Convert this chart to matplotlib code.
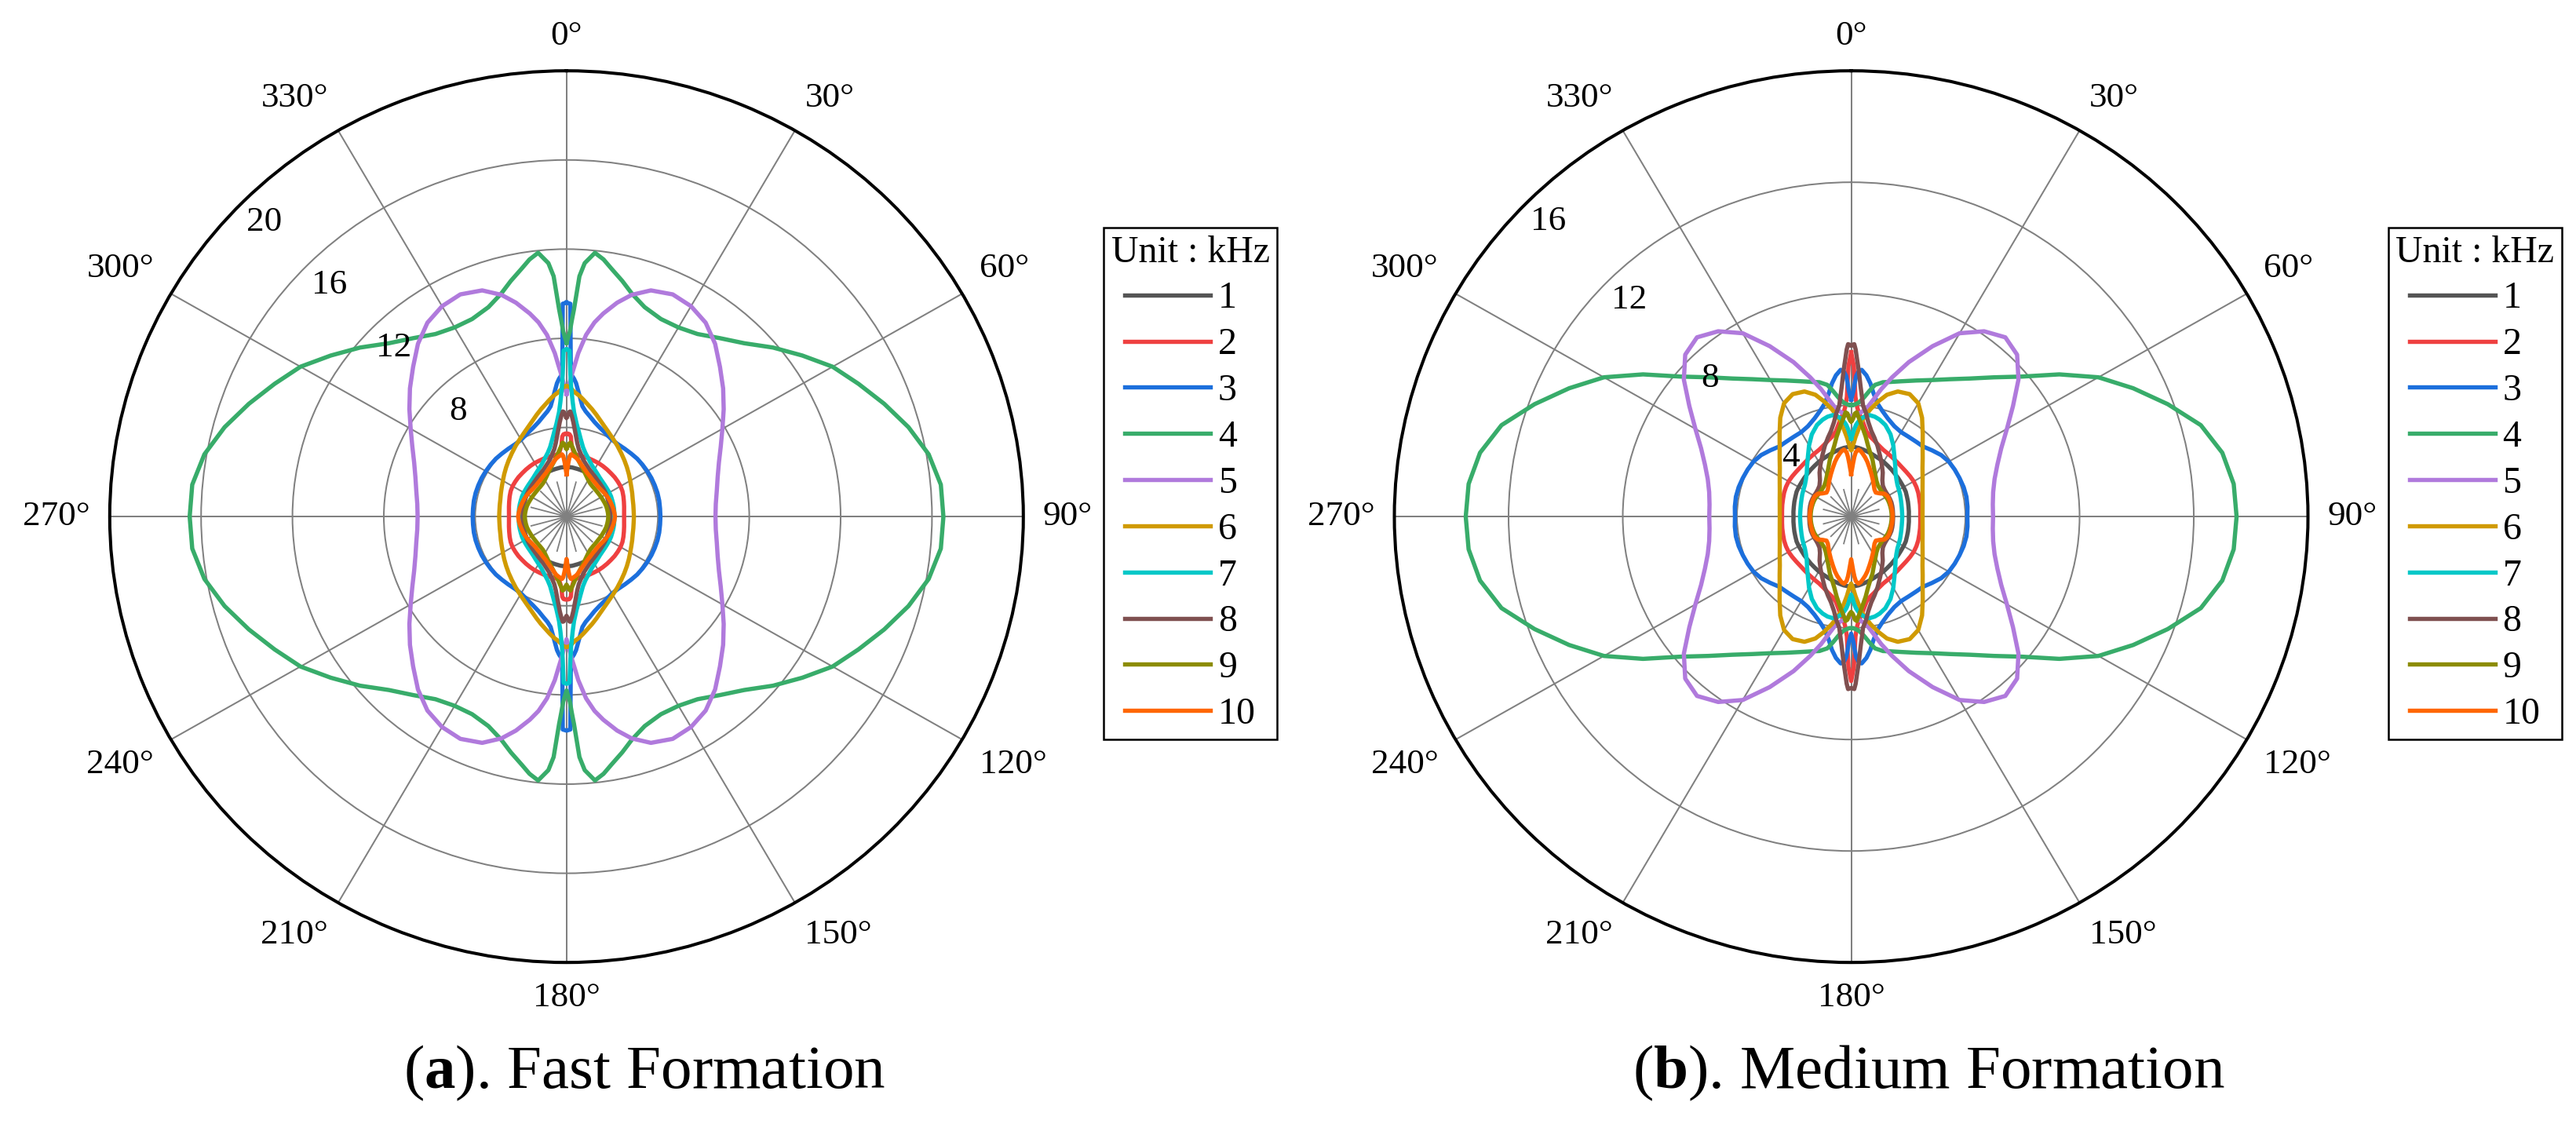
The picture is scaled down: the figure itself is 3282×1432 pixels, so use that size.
import numpy as np
import matplotlib.pyplot as plt

plt.rcParams['font.family'] = ['Liberation Serif', 'DejaVu Serif']
plt.rcParams['mathtext.fontset'] = 'custom'
plt.rcParams['mathtext.rm'] = 'Liberation Serif'
plt.rcParams['mathtext.bf'] = 'Liberation Serif:bold'

# angles of one quadrant (deg, clockwise from top); the patterns are symmetric
# about the 0-180 and 90-270 lines, so the other quadrants are mirrored
ang = [0, 1, 1.5, 2, 3, 4, 6, 8, 10, 13, 16, 20, 25, 30, 35, 40, 45, 50, 55, 60, 65, 70, 75, 80, 85, 90]

freqs = ['1', '2', '3', '4', '5', '6', '7', '8', '9', '10']
colors = ['#555555', '#ef4040', '#1c6fdc', '#38ac6a', '#b07adc',
          '#d09a00', '#00c8c8', '#7f5050', '#8c8c00', '#ff6600']

# (a) fast formation
fast_1 = [2.23, 2.23, 2.23, 2.23, 2.23, 2.22, 2.22, 2.21, 2.2, 2.19, 2.18, 2.17, 2.15, 2.13, 2.11, 2.09, 2.07, 2.04, 2.02, 2.0, 1.98, 1.96, 1.95, 1.94, 1.93, 1.93]
fast_2 = [3.72, 3.72, 3.7, 3.7, 3.6, 3.2, 2.92, 2.83, 2.8, 2.79, 2.79, 2.79, 2.78, 2.78, 2.77, 2.76, 2.75, 2.75, 2.74, 2.73, 2.7, 2.65, 2.6, 2.56, 2.53, 2.52]
fast_3 = [9.6, 9.55, 7.0, 6.35, 6.2, 6.0, 5.45, 5.0, 4.8, 4.6, 4.42, 4.25, 4.1, 3.98, 3.95, 3.97, 4.0, 4.04, 4.06, 4.08, 4.1, 4.11, 4.12, 4.12, 4.11, 4.11]
fast_4 = [7.8, 8.3, 8.8, 9.3, 10.8, 11.4, 11.9, 11.65, 11.3, 10.85, 10.4, 10.0, 9.78, 9.8, 10.0, 10.45, 11.0, 11.8, 12.6, 13.45, 14.1, 14.8, 15.5, 16.1, 16.45, 16.5]
fast_5 = [5.5, 5.9, 6.1, 6.35, 6.8, 7.35, 8.2, 8.8, 9.25, 9.85, 10.35, 10.8, 11.0, 10.9, 10.62, 10.12, 9.5, 8.95, 8.4, 7.88, 7.45, 7.1, 6.85, 6.68, 6.56, 6.52]
fast_6 = [5.85, 5.83, 5.8, 5.75, 5.65, 5.57, 5.45, 5.3, 5.15, 4.95, 4.75, 4.5, 4.25, 4.05, 3.88, 3.72, 3.58, 3.45, 3.33, 3.22, 3.13, 3.06, 3.0, 2.97, 2.95, 2.95]
fast_7 = [7.5, 7.45, 6.4, 5.8, 5.15, 4.7, 4.2, 3.85, 3.55, 3.2, 2.98, 2.78, 2.58, 2.45, 2.35, 2.27, 2.22, 2.19, 2.17, 2.16, 2.15, 2.13, 2.12, 2.11, 2.1, 2.1]
fast_8 = [4.45, 4.6, 4.7, 4.72, 4.5, 4.25, 3.75, 3.35, 3.08, 2.85, 2.65, 2.5, 2.35, 2.25, 2.18, 2.12, 2.08, 2.05, 2.03, 2.01, 1.98, 1.96, 1.94, 1.92, 1.91, 1.9]
fast_9 = [3.05, 3.15, 3.2, 3.28, 3.32, 3.2, 3.0, 2.82, 2.68, 2.5, 2.36, 2.2, 2.03, 1.9, 1.81, 1.77, 1.75, 1.74, 1.74, 1.75, 1.76, 1.78, 1.8, 1.81, 1.82, 1.83]
fast_10 = [1.9, 2.15, 2.3, 2.45, 2.72, 2.8, 2.75, 2.7, 2.64, 2.52, 2.4, 2.28, 2.15, 2.07, 2.0, 1.96, 1.93, 1.93, 1.95, 1.98, 2.01, 2.03, 2.05, 2.08, 2.1, 2.12]

# (b) medium formation
med_1 = [2.5, 2.5, 2.5, 2.5, 2.5, 2.49, 2.48, 2.46, 2.44, 2.41, 2.38, 2.34, 2.3, 2.27, 2.23, 2.2, 2.17, 2.15, 2.13, 2.12, 2.11, 2.08, 2.06, 2.04, 2.03, 2.02]
med_2 = [5.9, 5.4, 4.8, 4.3, 3.95, 3.75, 3.53, 3.3, 3.1, 2.95, 2.86, 2.75, 2.65, 2.6, 2.56, 2.53, 2.51, 2.51, 2.52, 2.53, 2.52, 2.5, 2.47, 2.45, 2.43, 2.42]
med_3 = [4.2, 4.5, 4.8, 5.05, 5.25, 5.28, 5.1, 4.83, 4.5, 4.15, 3.95, 3.75, 3.58, 3.5, 3.5, 3.52, 3.56, 3.7, 3.85, 3.95, 4.0, 4.04, 4.08, 4.1, 4.09, 4.07]
med_4 = [4.0, 4.0, 4.02, 4.03, 4.07, 4.12, 4.3, 4.55, 4.8, 4.95, 5.03, 5.17, 5.39, 5.66, 6.02, 6.47, 7.07, 7.82, 8.9, 10.0, 10.9, 11.8, 12.68, 13.2, 13.45, 13.5]
med_5 = [3.6, 3.6, 3.6, 3.62, 3.65, 3.7, 3.8, 3.93, 4.2, 4.7, 5.2, 5.9, 6.75, 7.6, 8.12, 8.4, 8.22, 7.65, 6.92, 6.3, 5.8, 5.45, 5.2, 5.05, 4.98, 4.97]
med_6 = [2.4, 2.5, 2.58, 2.65, 2.85, 3.02, 3.42, 3.68, 3.92, 4.25, 4.55, 4.78, 4.85, 4.7, 4.33, 3.9, 3.54, 3.27, 3.05, 2.89, 2.76, 2.66, 2.59, 2.54, 2.51, 2.5]
med_7 = [2.8, 2.95, 3.05, 3.15, 3.3, 3.4, 3.55, 3.65, 3.7, 3.68, 3.62, 3.5, 3.26, 2.95, 2.64, 2.4, 2.2, 2.07, 1.98, 1.93, 1.89, 1.85, 1.82, 1.8, 1.79, 1.79]
med_8 = [6.15, 6.19, 6.0, 5.7, 5.2, 4.7, 4.0, 3.75, 3.45, 3.15, 2.95, 2.7, 2.4, 2.15, 1.93, 1.7, 1.57, 1.52, 1.5, 1.5, 1.5, 1.5, 1.49, 1.48, 1.47, 1.47]
med_9 = [3.42, 3.5, 3.6, 3.7, 3.75, 3.6, 3.35, 3.12, 2.92, 2.62, 2.4, 2.18, 1.9, 1.7, 1.55, 1.46, 1.42, 1.4, 1.4, 1.41, 1.42, 1.42, 1.42, 1.42, 1.42, 1.42]
med_10 = [1.53, 1.7, 1.8, 1.92, 2.15, 2.32, 2.42, 2.38, 2.3, 2.18, 2.05, 1.87, 1.68, 1.52, 1.38, 1.27, 1.22, 1.3, 1.43, 1.47, 1.47, 1.46, 1.45, 1.45, 1.45, 1.45]

fast = [fast_1, fast_2, fast_3, fast_4, fast_5, fast_6, fast_7, fast_8, fast_9, fast_10]
med = [med_1, med_2, med_3, med_4, med_5, med_6, med_7, med_8, med_9, med_10]


def mirror(a, r):
    a = np.asarray(a, float)
    r = np.asarray(r, float)
    th = np.concatenate([a, 180 - a[::-1][1:], 180 + a[1:], 360 - a[::-1][1:]])
    rr = np.concatenate([r, r[::-1][1:], r[1:], r[::-1][1:]])
    return np.deg2rad(th), rr


GRID = '#808080'
FS = 32.5


def polar_panel(ax, series, rmax, rlab, rlab_off, star):
    ax.set_aspect('auto')
    ax.set_theta_zero_location('N')
    ax.set_theta_direction(-1)
    ax.set_ylim(0, rmax)
    ax.set_thetagrids(range(0, 360, 30), labels=[''] * 12)
    ax.set_rgrids([4, 8, 12, 16], labels=[''] * 4)
    ax.grid(True, color=GRID, lw=1.45)
    ax.spines['polar'].set_linewidth(2.9)
    ax.tick_params(axis='x', direction='in', length=15, width=2.9, color='k')
    ax.tick_params(axis='y', length=0)

    # short minor spokes around the centre
    for a in range(15, 360, 30):
        ax.plot([np.deg2rad(a)] * 2, [0, star], color=GRID, lw=1.3)

    for vals, c, lab in zip(series, colors, freqs):
        th, rr = mirror(ang, vals)
        ax.plot(th, rr, color=c, lw=3.9, label=lab, solid_joinstyle='round')

    # angle labels outside the circle
    for a in range(0, 360, 30):
        s, co = np.sin(np.deg2rad(a)), np.cos(np.deg2rad(a))
        ha = 'left' if s > 0.3 else ('right' if s < -0.3 else 'center')
        va = 'bottom' if co > 0.3 else ('top' if co < -0.3 else 'center')
        ax.text(np.deg2rad(a), rmax * 1.043, f'{a}°', ha=ha, va=va,
                fontsize=FS, clip_on=False)

    for v in rlab:
        ax.text(np.deg2rad(315), v - rlab_off, str(v), ha='center', va='center',
                fontsize=FS)


fig = plt.figure(figsize=(32.82, 14.32), dpi=100)
axL = fig.add_axes([0.04260, 0.14372, 0.35466, 0.79330], projection='polar')
axR = fig.add_axes([0.54129, 0.14372, 0.35466, 0.79330], projection='polar')

polar_panel(axL, fast, 20, [8, 12, 16, 20], 1.3, 1.6)
polar_panel(axR, med, 16, [4, 8, 12, 16], 1.0, 1.0)

for ax, x0 in [(axL, 0.42840), (axR, 0.92703)]:
    leg = ax.legend(title='Unit : kHz', loc='upper left',
                    bbox_to_anchor=(x0, 0.79749), bbox_transform=fig.transFigure,
                    fontsize=34.5, title_fontsize=34.5, frameon=True,
                    fancybox=False, shadow=False, framealpha=1, edgecolor='k',
                    borderpad=0.2, labelspacing=0.31, handlelength=2.28,
                    handletextpad=0.2, borderaxespad=0)
    leg.get_frame().set_linewidth(1.8)
    for ln in leg.get_lines():
        ln.set_linewidth(3.9)

fig.text(0.2503, 0.0321, r'($\mathbf{a}$). Fast Formation', ha='center',
         va='baseline', fontsize=57)
fig.text(0.7487, 0.0321, r'($\mathbf{b}$). Medium Formation', ha='center',
         va='baseline', fontsize=57)

fig.savefig('out.png', dpi=100)
